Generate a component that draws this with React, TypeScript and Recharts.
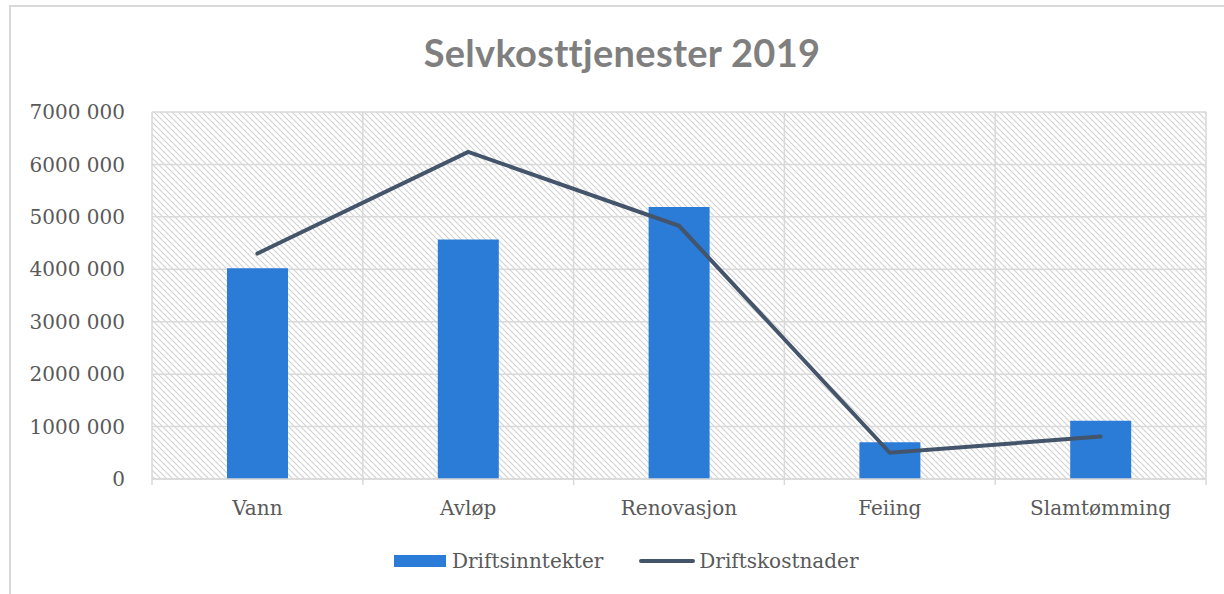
import React from "react";
import {
  ComposedChart,
  Bar,
  Line,
  XAxis,
  YAxis,
  CartesianGrid,
} from "recharts";

const categories = ["Vann", "Avløp", "Renovasjon", "Feiing", "Slamtømming"];
const driftsinntekter = [4020000, 4570000, 5190000, 700000, 1110000];
const driftskostnader = [4300000, 6240000, 4830000, 500000, 810000];
const yTicks = [0, 1000000, 2000000, 3000000, 4000000, 5000000, 6000000, 7000000];

const WIDTH = 1224;
const HEIGHT = 594;
const MARGIN = { top: 112, right: 18, bottom: 85, left: 0 };
const Y_AXIS_WIDTH = 152;
const BAND = (WIDTH - MARGIN.left - MARGIN.right - Y_AXIS_WIDTH) / categories.length;

const BAR_COLOR = "#2A7CD6";
const LINE_COLOR = "#44546A";
const TEXT_COLOR = "#595959";
const GRID_COLOR = "#D9D9D9";
const FONT = "'DejaVu Serif', 'Liberation Serif', serif";

const data = categories.map((name, i) => ({
  name,
  Driftsinntekter: driftsinntekter[i],
  Driftskostnader: driftskostnader[i],
}));

// "7000 000" style: only the last group gets a space
function formatTick(v: number): string {
  if (v === 0) return "0";
  return `${Math.floor(v / 1000)} ${String(v % 1000).padStart(3, "0")}`;
}

// eslint-disable-next-line @typescript-eslint/no-explicit-any
function CategoryTick({ x, y, payload, index }: any) {
  const last = index === categories.length - 1;
  return (
    <g>
      <line x1={x - BAND / 2} x2={x - BAND / 2} y1={y} y2={y + 6} stroke={GRID_COLOR} strokeWidth={1.5} />
      {last && (
        <line x1={x + BAND / 2} x2={x + BAND / 2} y1={y} y2={y + 6} stroke={GRID_COLOR} strokeWidth={1.5} />
      )}
      <text x={x} y={y + 36} textAnchor="middle" fill={TEXT_COLOR} fontSize={20} fontFamily={FONT}>
        {payload.value}
      </text>
    </g>
  );
}

export default function App() {
  return (
    <div
      style={{
        position: "absolute",
        left: 0,
        top: 0,
        width: WIDTH,
        height: HEIGHT,
        overflow: "hidden",
        background: "white",
      }}
    >
      {/* chart border, cut off at right and bottom */}
      <div
        style={{
          position: "absolute",
          left: 9,
          top: 5,
          width: WIDTH + 20,
          height: HEIGHT + 20,
          border: `2px solid ${GRID_COLOR}`,
        }}
      />

      <svg width="0" height="0" style={{ position: "absolute" }}>
        <defs>
          <pattern id="hatch" width="6" height="6" patternUnits="userSpaceOnUse">
            <rect width="6" height="6" fill="white" />
            <path d="M-1,-1 L7,7 M-1,5 L1,7 M5,-1 L7,1" stroke="#D2D2D2" strokeWidth={1.1} />
          </pattern>
        </defs>
      </svg>

      {/* Title */}
      <div
        style={{
          position: "absolute",
          left: 0,
          width: WIDTH + 20,
          top: 29,
          textAlign: "center",
          fontFamily: "Lato, 'Open Sans', sans-serif",
          fontWeight: 700,
          fontSize: 38,
          letterSpacing: 0.3,
          lineHeight: "46px",
          color: "#7F7F7F",
        }}
      >
        Selvkosttjenester 2019
      </div>

      <div style={{ position: "absolute", left: 0, top: 0 }}>
        <ComposedChart width={WIDTH} height={HEIGHT} data={data} margin={MARGIN}>
          <CartesianGrid
            fill="url(#hatch)"
            fillOpacity={1}
            stroke={GRID_COLOR}
            strokeWidth={1.5}
            verticalCoordinatesGenerator={({ offset }: any) =>
              categories
                .map((_, i) => offset.left + (i * offset.width) / categories.length)
                .concat(offset.left + offset.width)
            }
          />
          <XAxis
            dataKey="name"
            height={30}
            axisLine={{ stroke: GRID_COLOR, strokeWidth: 1.5 }}
            tickLine={false}
            tickSize={0}
            tickMargin={0}
            tick={<CategoryTick />}
            interval={0}
          />
          <YAxis
            width={Y_AXIS_WIDTH}
            domain={[0, 7000000]}
            ticks={yTicks}
            axisLine={false}
            tickLine={false}
            tickSize={0}
            tickMargin={27}
            tickFormatter={formatTick}
            tick={{ fill: TEXT_COLOR, fontSize: 20, fontFamily: FONT }}
          />
          <Bar dataKey="Driftsinntekter" fill={BAR_COLOR} barSize={61} isAnimationActive={false} />
          <Line
            dataKey="Driftskostnader"
            type="linear"
            stroke={LINE_COLOR}
            strokeWidth={4}
            strokeLinecap="round"
            dot={false}
            activeDot={false}
            isAnimationActive={false}
          />
        </ComposedChart>
      </div>

      {/* Legend */}
      <div
        style={{
          position: "absolute",
          top: 548,
          left: 394,
          display: "flex",
          alignItems: "center",
          fontFamily: FONT,
          fontSize: 20,
          color: TEXT_COLOR,
          lineHeight: "26px",
        }}
      >
        <span style={{ width: 52, height: 12, background: BAR_COLOR, display: "inline-block" }} />
        <span style={{ marginLeft: 6 }}>Driftsinntekter</span>
        <svg width={56} height={8} style={{ marginLeft: 36 }}>
          <line x1={2} x2={54} y1={4} y2={4} stroke={LINE_COLOR} strokeWidth={4} strokeLinecap="round" />
        </svg>
        <span style={{ marginLeft: 4 }}>Driftskostnader</span>
      </div>
    </div>
  );
}
